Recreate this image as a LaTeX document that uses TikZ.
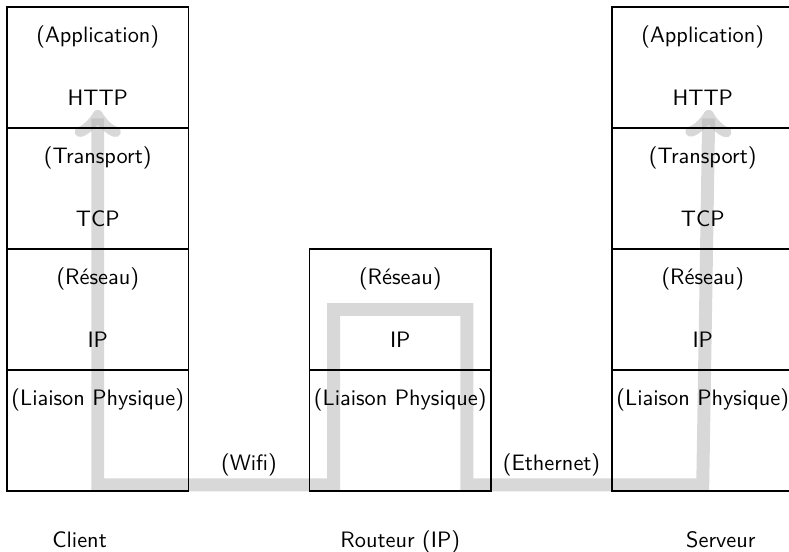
\documentclass[tikz,border=0pt]{standalone}
\begin{document}
\begin{tikzpicture}[
  layer/.style={draw, line width=0.6pt, minimum width=3cm, minimum height=2cm, inner sep=0pt, outer sep=0pt, anchor=south west},
  lbl/.style={font=\sffamily\fontsize{10.5}{12}\selectfont, inner sep=1pt},
  flow/.style={line width=6.1pt, draw=black!30, opacity=0.5, <->}
]
\useasboundingbox (-0.116,-0.992) rectangle (12.926,8.116);
% flow (drawn first, under boxes and texts)
\coordinate (start) at (1.5,6.3);
\coordinate (end) at (11.6,6.3);
\draw[flow] (start) -- (1.5,0.1) -- (5.4,0.1) -- (5.4,3) -- (7.6,3) -- (7.6,0.1) -- (11.5,0.1) -- (end);
% Client
\node[layer] (c1) at (0,0) {};
\node[layer] (c2) at (0,2) {};
\node[layer] (c3) at (0,4) {};
\node[layer] (c4) at (0,6) {};
% Routeur
\node[layer] (r1) at (5,0) {};
\node[layer] (r2) at (5,2) {};
% Serveur
\node[layer] (s1) at (10,0) {};
\node[layer] (s2) at (10,2) {};
\node[layer] (s3) at (10,4) {};
\node[layer] (s4) at (10,6) {};
% labels client
\node[lbl] (c4a) at (1.5,7.5) {(Application)};
\node[lbl] (c4b) at (1.5,6.5) {HTTP};
\node[lbl] (c3a) at (1.5,5.5) {(Transport)};
\node[lbl] (c3b) at (1.5,4.5) {TCP};
\node[lbl] (c2a) at (1.5,3.5) {(Réseau)};
\node[lbl] (c2b) at (1.5,2.5) {IP};
\node[lbl] (c1a) at (1.5,1.5) {(Liaison Physique)};
% labels routeur
\node[lbl] (r2a) at (6.5,3.5) {(Réseau)};
\node[lbl] (r2b) at (6.5,2.5) {IP};
\node[lbl] (r1a) at (6.5,1.5) {(Liaison Physique)};
% labels serveur
\node[lbl] (s4a) at (11.5,7.5) {(Application)};
\node[lbl] (s4b) at (11.5,6.5) {HTTP};
\node[lbl] (s3a) at (11.5,5.5) {(Transport)};
\node[lbl] (s3b) at (11.5,4.5) {TCP};
\node[lbl] (s2a) at (11.5,3.5) {(Réseau)};
\node[lbl] (s2b) at (11.5,2.5) {IP};
\node[lbl] (s1a) at (11.5,1.5) {(Liaison Physique)};
% media
\node[lbl] (wifi) at (4,0.43) {(Wifi)};
\node[lbl] (eth) at (9,0.43) {(Ethernet)};
% names
\node[lbl, anchor=base] (client) at (1.2,-0.94) {Client};
\node[lbl, anchor=base] (routeur) at (6.5,-0.94) {Routeur (IP)};
\node[lbl, anchor=base] (serveur) at (11.8,-0.94) {Serveur};
\end{tikzpicture}
\end{document}
